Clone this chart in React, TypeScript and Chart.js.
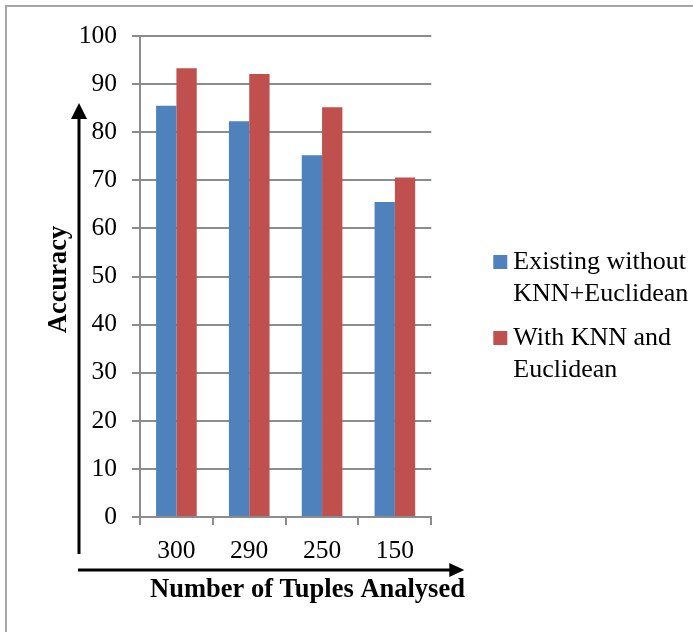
import React, { useEffect, useRef } from "react";
import { Chart, registerables } from "chart.js";

Chart.register(...registerables);

const categories = ["300", "290", "250", "150"];
const existingValues = [85.5, 82.3, 75.2, 65.5];
const knnValues = [93.3, 92.1, 85.2, 70.6];
const seriesLabels = ["Existing without KNN+Euclidean", "With KNN and Euclidean"];
const legendLines = [
  ["Existing without", "KNN+Euclidean"],
  ["With KNN and", "Euclidean"],
];
const seriesColors = ["#4F81BD", "#C0504D"];
const yMin = 0;
const yMax = 100;
const yStep = 10;
const xTitle = "Number of Tuples Analysed";
const yTitle = "Accuracy";

const FONT = "'Liberation Serif', 'Times New Roman', serif";
const GRID = "#8c8c8c";

const decorPlugin = {
  id: "decor",
  beforeDraw(chart: any) {
    const { ctx } = chart;
    ctx.save();
    ctx.strokeStyle = "#a6a6a6";
    ctx.lineWidth = 2;
    ctx.strokeRect(6, 6, 800, 800);
    ctx.restore();
  },
  afterDraw(chart: any) {
    const { ctx, chartArea: a } = chart;
    ctx.save();
    ctx.strokeStyle = "#000";
    ctx.fillStyle = "#000";
    ctx.lineWidth = 3;
    // vertical arrow
    const vx = a.left - 61;
    const vBottom = a.bottom + 37;
    const vTip = a.top + 67;
    ctx.beginPath();
    ctx.moveTo(vx, vBottom);
    ctx.lineTo(vx, vTip + 14);
    ctx.stroke();
    ctx.beginPath();
    ctx.moveTo(vx, vTip);
    ctx.lineTo(vx - 8, vTip + 16);
    ctx.lineTo(vx + 8, vTip + 16);
    ctx.closePath();
    ctx.fill();
    // horizontal arrow
    const hy = a.bottom + 53;
    const hStart = vx - 1;
    const hTip = a.right + 33;
    ctx.beginPath();
    ctx.moveTo(hStart, hy);
    ctx.lineTo(hTip - 12, hy);
    ctx.stroke();
    ctx.beginPath();
    ctx.moveTo(hTip, hy);
    ctx.lineTo(hTip - 15, hy - 7);
    ctx.lineTo(hTip - 15, hy + 7);
    ctx.closePath();
    ctx.fill();

    // axis titles
    ctx.font = "bold 26.5px " + FONT;
    ctx.textAlign = "center";
    ctx.textBaseline = "alphabetic";
    ctx.fillText(xTitle, a.left + 167.5, a.bottom + 80);
    ctx.save();
    ctx.translate(a.left - 74, (a.top + a.bottom) / 2 + 3);
    ctx.rotate(-Math.PI / 2);
    ctx.fillText(yTitle, 0, 0);
    ctx.restore();

    // legend
    ctx.font = "26px " + FONT;
    ctx.textAlign = "left";
    const lx = a.right + 62;
    chart.data.datasets.forEach((ds: any, i: number) => {
      const base = 269 + i * 76;
      ctx.fillStyle = ds.backgroundColor;
      ctx.fillRect(lx, base - 14, 14, 14);
      ctx.fillStyle = "#000";
      legendLines[i].forEach((line, j) => {
        ctx.fillText(line, lx + 20, base + j * 32);
      });
    });
    ctx.restore();
  },
};

export default function App() {
  const ref = useRef<HTMLCanvasElement>(null);
  useEffect(() => {
    if (!ref.current) return;
    const chart = new Chart(ref.current, {
      type: "bar",
      data: {
        labels: categories,
        datasets: [
          {
            label: seriesLabels[0],
            data: existingValues,
            backgroundColor: seriesColors[0],
            categoryPercentage: 0.558,
            barPercentage: 1,
          },
          {
            label: seriesLabels[1],
            data: knnValues,
            backgroundColor: seriesColors[1],
            categoryPercentage: 0.558,
            barPercentage: 1,
          },
        ],
      },
      options: {
        responsive: false,
        animation: false,
        layout: { padding: { left: 0, right: 261.7, top: 36, bottom: 0 } },
        plugins: {
          legend: { display: false },
          tooltip: { enabled: false },
        },
        scales: {
          x: {
            afterFit: (s: any) => {
              s.height = 115;
            },
            grid: {
              drawOnChartArea: false,
              drawTicks: true,
              tickLength: 8,
              color: GRID,
              lineWidth: 2,
              offset: true,
            },
            border: { color: GRID, width: 2 },
            ticks: {
              color: "#000",
              font: { family: FONT, size: 25.5 },
              padding: 11,
            },
          },
          y: {
            min: yMin,
            max: yMax,
            afterFit: (s: any) => {
              s.width = 140;
            },
            grid: { color: GRID, lineWidth: 2, tickLength: 8 },
            border: { color: GRID, width: 2 },
            ticks: {
              stepSize: yStep,
              color: "#000",
              font: { family: FONT, size: 25.5 },
              padding: 15,
            },
          },
        },
      },
      plugins: [decorPlugin],
    });
    return () => chart.destroy();
  }, []);
  return (
    <div style={{ position: "absolute", left: 0, top: 0, width: 693, height: 632, background: "#fff" }}>
      <canvas ref={ref} width={693} height={632} />
    </div>
  );
}
